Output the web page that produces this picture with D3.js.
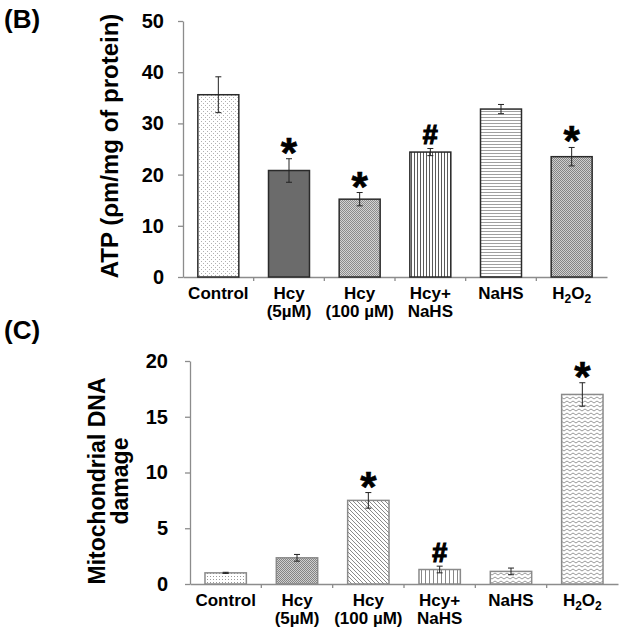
<!DOCTYPE html>
<html>
<head>
<meta charset="utf-8">
<script src="https://cdn.jsdelivr.net/npm/d3@7"></script>
<style>
  body { margin: 0; background: #fff; }
  text { font-family: "Liberation Sans", Arial, sans-serif; font-weight: bold; fill: #000; }
</style>
</head>
<body>
<div id="chart-area"></div>
<script>
// categories (shared by both panels), "\n" splits label lines
const categories = ["Control", "Hcy\n(5µM)", "Hcy\n(100 µM)", "Hcy+\nNaHS", "NaHS", "H2O2"];

// panel B: ATP
const atpMeans = [35.6, 20.8, 15.2, 24.4, 32.8, 23.5];
const atpErrors = [3.5, 2.3, 1.3, 0.7, 0.9, 1.8];
const atpMarks = ["", "*", "*", "#", "", "*"];
const atpTicks = [0, 10, 20, 30, 40, 50];

// panel C: mitochondrial DNA damage
const dnaMeans = [1.0, 2.35, 7.5, 1.3, 1.13, 17.0];
const dnaErrors = [0.05, 0.3, 0.7, 0.3, 0.3, 1.05];
const dnaMarks = ["", "", "*", "#", "", "*"];
const dnaTicks = [0, 5, 10, 15, 20];

const svg = d3.select("#chart-area")
  .append("svg")
    .attr("width", 624)
    .attr("height", 634);

const defs = svg.append("defs");

// fill patterns
function pattern(id, w, h, bg, draw) {
  const p = defs.append("pattern")
    .attr("id", id)
    .attr("patternUnits", "userSpaceOnUse")
    .attr("width", w)
    .attr("height", h);
  p.append("rect").attr("width", w).attr("height", h).attr("fill", bg);
  draw(p);
}
function dots(p, pts, color) {
  pts.forEach(([x, y]) => p.append("rect").attr("x", x).attr("y", y)
    .attr("width", 1).attr("height", 1).attr("fill", color));
}
pattern("dotsA", 4, 4, "#fff", p => dots(p, [[1, 1], [3, 3]], "#b0b0b0"));
pattern("dotsB", 3, 3, "#fff", p => dots(p, [[0, 0]], "#999"));
pattern("checkA", 2, 2, "#d4d4d4", p => dots(p, [[0, 0], [1, 1]], "#8c8c8c"));
pattern("checkB", 2, 2, "#cfcfcf", p => dots(p, [[0, 0], [1, 1]], "#848484"));
pattern("vlinesA", 3, 3, "#fff", p => p.append("rect").attr("width", 1).attr("height", 3).attr("fill", "#5a5a5a"));
pattern("vlinesB", 4, 4, "#fff", p => p.append("rect").attr("x", 1).attr("width", 1).attr("height", 4).attr("fill", "#888"));
pattern("hlines", 3, 3, "#fff", p => p.append("rect").attr("width", 3).attr("height", 1).attr("fill", "#a0a0a0"));
pattern("diag", 4, 4, "#fff", p => p.append("path")
  .attr("d", "M0,0L4,4M-1,3L1,5M3,-1L5,1").attr("stroke", "#8a8a8a").attr("stroke-width", 1));
pattern("zig", 6, 4, "#fff", p => p.append("path")
  .attr("d", "M0,3L3,1L6,3").attr("fill", "none").attr("stroke", "#999").attr("stroke-width", 1));

const atpFills = ["url(#dotsA)", "#6b6b6b", "url(#checkA)", "url(#vlinesA)", "url(#hlines)", "url(#checkB)"];
const dnaFills = ["url(#dotsB)", "url(#checkB)", "url(#diag)", "url(#vlinesB)", "url(#zig)", "url(#zig)"];

function drawPanel(opt) {
  const g = svg.append("g");

  const xb = d3.scaleBand().domain(categories).range(opt.xRange).padding(0);
  const x = d3.scaleBand().domain(categories).range(opt.xRange)
    .paddingInner(0.42).paddingOuter(0.21);
  const y = d3.scaleLinear().domain(opt.yDomain).range(opt.yRange);

  // y axis
  const yAxis = g.append("g")
    .attr("transform", `translate(${opt.xRange[0]}, 0)`)
    .call(d3.axisLeft(y).tickValues(opt.ticks).tickSize(5).tickSizeOuter(0).tickPadding(opt.tickPad));
  yAxis.selectAll("line, path").attr("stroke", "#8c8c8c").attr("stroke-width", 1.3);
  yAxis.selectAll("text").attr("font-size", "20px").attr("font-family", null);

  // x axis
  const xAxis = g.append("g")
    .attr("transform", `translate(0, ${opt.yRange[0]})`)
    .call(d3.axisBottom(xb).tickSize(0).tickFormat(""));
  xAxis.select("path").attr("stroke", "#8c8c8c").attr("stroke-width", 1.3);
  xAxis.selectAll(".tick").remove();

  g.selectAll(".sep")
    .data(categories.slice(1))
    .enter().append("line")
      .attr("x1", d => xb(d))
      .attr("x2", d => xb(d))
      .attr("y1", opt.yRange[0])
      .attr("y2", opt.yRange[0] + 4)
      .attr("stroke", "#8c8c8c")
      .attr("stroke-width", 1.3);

  // category labels
  const labels = g.selectAll(".cat")
    .data(categories)
    .enter().append("text")
      .attr("text-anchor", "middle")
      .attr("font-size", "17px")
      .attr("y", opt.labelY);
  labels.each(function(d) {
    const t = d3.select(this);
    const cx = xb(d) + xb.bandwidth() / 2;
    if (d === "H2O2") {
      t.attr("x", cx);
      t.append("tspan").text("H");
      t.append("tspan").attr("font-size", "12px").attr("dy", 4).text("2");
      t.append("tspan").attr("dy", -4).text("O");
      t.append("tspan").attr("font-size", "12px").attr("dy", 4).text("2");
      return;
    }
    d.split("\n").forEach((line, i) => {
      t.append("tspan").attr("x", cx).attr("dy", i === 0 ? 0 : 18).text(line);
    });
  });

  // bars
  g.selectAll(".bar")
    .data(opt.means)
    .enter().append("rect")
      .attr("x", (d, i) => x(categories[i]))
      .attr("y", d => y(d))
      .attr("width", x.bandwidth())
      .attr("height", d => y(0) - y(d))
      .attr("fill", (d, i) => opt.fills[i])
      .attr("stroke", opt.barStroke)
      .attr("stroke-width", 1.5);

  // error bars
  const cx = i => x(categories[i]) + x.bandwidth() / 2;
  const err = g.selectAll(".err")
    .data(opt.means)
    .enter().append("g")
      .attr("stroke", "#222")
      .attr("stroke-width", 1);
  err.append("line")
    .attr("x1", (d, i) => cx(i)).attr("x2", (d, i) => cx(i))
    .attr("y1", (d, i) => y(d - opt.errors[i]))
    .attr("y2", (d, i) => y(d + opt.errors[i]));
  [-1, 1].forEach(s => {
    err.append("line")
      .attr("x1", (d, i) => cx(i) - 3).attr("x2", (d, i) => cx(i) + 3)
      .attr("y1", (d, i) => y(d + s * opt.errors[i]))
      .attr("y2", (d, i) => y(d + s * opt.errors[i]));
  });

  // significance marks
  g.selectAll(".mark")
    .data(opt.marks)
    .enter().append("text")
      .attr("text-anchor", "middle")
      .attr("x", (d, i) => cx(i))
      .attr("y", (d, i) => y(opt.means[i] + opt.errors[i]) + (d === "*" ? 8 : -4))
      .attr("font-size", d => d === "*" ? "42px" : "27px")
      .attr("stroke", "#000")
      .attr("stroke-width", d => d === "*" ? 0.6 : 1.2)
      .text(d => d);

  // y title
  const title = g.append("text")
    .attr("text-anchor", "middle")
    .attr("font-size", opt.titleSize)
    .attr("transform", `translate(${opt.titleX}, ${opt.titleY}) rotate(-90)`);
  opt.title.forEach((line, i) => {
    title.append("tspan").attr("x", 0).attr("dy", i === 0 ? 0 : 23).text(line);
  });

  svg.append("text")
    .attr("x", 4)
    .attr("y", opt.panelY)
    .attr("font-size", "26px")
    .text(opt.panel);
}

drawPanel({
  panel: "(B)", panelY: 28,
  xRange: [183, 607], yRange: [277, 21], yDomain: [0, 50],
  ticks: atpTicks, tickPad: 14,
  means: atpMeans, errors: atpErrors, marks: atpMarks, fills: atpFills,
  barStroke: "#2a2a2a",
  labelY: 299,
  title: ["ATP (ρm/mg of protein)"], titleX: 118, titleY: 146, titleSize: "24px"
});

drawPanel({
  panel: "(C)", panelY: 339,
  xRange: [190, 618], yRange: [584, 361], yDomain: [0, 20],
  ticks: dnaTicks, tickPad: 17,
  means: dnaMeans, errors: dnaErrors, marks: dnaMarks, fills: dnaFills,
  barStroke: "#8a8a8a",
  labelY: 606,
  title: ["Mitochondrial DNA", "damage"], titleX: 105, titleY: 481, titleSize: "23px"
});
</script>
</body>
</html>
